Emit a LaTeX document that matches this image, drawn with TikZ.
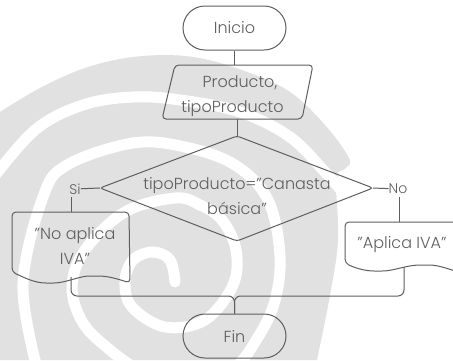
\documentclass[tikz,border=0pt]{standalone}
\usepackage{fontspec}
\setmainfont{Poppins Light}
\usetikzlibrary{shapes.misc}
\definecolor{ink}{HTML}{5E5E5E}
\definecolor{wm}{HTML}{E1E1E1}
\tikzset{
  x=1pt,y=-1pt,
  every node/.style={text=ink,font=\fontsize{16}{25}\selectfont,align=center,inner sep=0pt},
  outl/.style={draw=ink,line width=1pt,rounded corners=4pt},
  term/.style={draw=ink,line width=1pt,rounded rectangle,minimum width=103pt,minimum height=44pt},
  link/.style={draw=ink,line width=1pt},
  small/.style={font=\fontsize{14}{14}\selectfont},
  stripe/.style={draw=white,line cap=round,line width=11pt,fill=none}
}
\begin{document}
\begin{tikzpicture}
\useasboundingbox (0,0) rectangle (453,360);
% watermark: grey disc cut by a white spiral
\fill[wm] plot[smooth,tension=0.6] coordinates {(0,112) (40,88) (85,68) (133,57) (185,56) (233,67) (287,90) (325,125) (349,158) (346,168) (338,172)}
  -- (336,190) -- plot[smooth,tension=0.6] coordinates {(336,190) (338,240) (331,290) (317,360)} -- (0,360) -- cycle;
\draw[stripe] plot[smooth,tension=0.6] coordinates {(-10,182) (35,130) (83,105) (133,97) (180,100) (240,112) (290,137) (325,172) (345,195)};
\draw[stripe] plot[smooth,tension=0.6] coordinates {(38,372) (23,285) (43,197) (67,165) (133,143) (185,147) (235,165) (268,200) (280,257) (273,307) (250,350) (232,372)};
\draw[stripe] plot[smooth,tension=0.6] coordinates {(175,282) (170,260) (153,252) (133,260) (125,282) (132,307) (165,327) (205,320) (233,285) (236,250) (222,220) (200,205) (175,198) (125,212) (85,250) (72,287) (83,323) (110,350) (140,372)};
% nodes
\node[term] (inicio) at (234.5,28) {Inicio};
\draw[outl] (175,65) -- (313,65) -- (302,119) -- (162,119) -- cycle;
\coordinate (b) at (237,119);
\node (enttext) at (232.5,96.5) {\hspace*{15pt}Producto,\\tipoProducto};
\draw[outl,rounded corners=3pt] (237,136) -- (373,188) -- (237,241) -- (100,188) -- cycle;
\coordinate (c) at (237,136);
\coordinate (d) at (100,188);
\coordinate (e) at (373,188);
\node (dectext) at (237,196) {tipoProducto="Canasta\\básica"};
\node[small] (si) at (75,189) {Si};
\node[small] (no) at (398,189) {No};
\draw[outl] (12,212) -- (129,212) -- (130,283) .. controls (112,277) and (105,276) .. (93,276) .. controls (80,276) and (65,283) .. (50,283) .. controls (35,283) and (25,278) .. (12,272) -- cycle;
\node (t1) at (75,246) {"No aplica\\IVA"};
\draw[outl] (345,222) -- (470,222) -- (470,275) .. controls (450,270) and (440,265) .. (425,265) .. controls (405,265) and (395,271) .. (378,271) .. controls (365,271) and (355,268) .. (345,263) -- cycle;
\node (t2) at (402,245) {"Aplica IVA"};
\node[term] (fin) at (234.5,336) {Fin};
\coordinate (a) at (234.5,65);
\draw[link] (inicio) -- (a);
\draw[link] (b) -- (c);
\draw[link] (d) -- (si);
\draw[link] (e) -- (no);
\coordinate (s1) at (71,212);
\coordinate (s2) at (399.5,222);
\coordinate (r1) at (71,277);
\coordinate (r2) at (404,267);
\coordinate (jn) at (234.5,296);
\draw[link] (si) ++(-4,8) -- (s1);
\draw[link] (no) ++(1.5,8) -- (s2);
\draw[link,rounded corners=6pt] (r1) -- (71,296) -- (jn) -- (fin);
\draw[link,rounded corners=6pt] (r2) -- (404,296) -- (jn) -- (fin);
\end{tikzpicture}
\end{document}
